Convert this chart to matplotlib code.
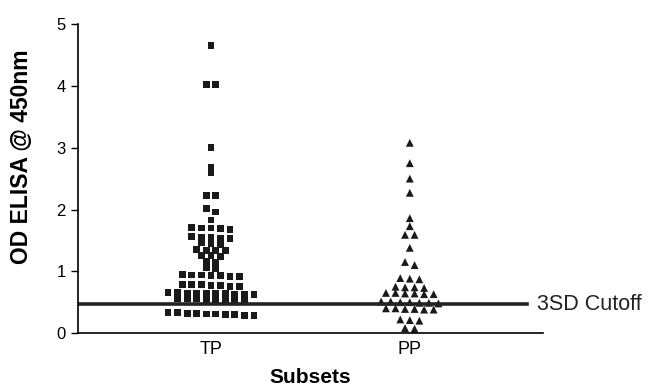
import matplotlib
matplotlib.use("Agg")
import matplotlib.pyplot as plt
import numpy as np

plt.rcParams['font.family'] = ['Liberation Sans', 'DejaVu Sans']

# OD values
groups = ['TP', 'PP']
tp_values = [4.65, 4.02, 4.02, 3.00, 2.68, 2.59, 2.23, 2.23, 2.02, 1.96, 1.83,
             1.71, 1.70, 1.70, 1.69, 1.68,
             1.56, 1.55, 1.55, 1.54, 1.53,
             1.46, 1.45, 1.44,
             1.35, 1.34, 1.34, 1.33,
             1.26, 1.25, 1.24,
             1.16, 1.15, 1.06, 1.04,
             0.95, 0.94, 0.94, 0.93, 0.93, 0.92, 0.92,
             0.79, 0.78, 0.78, 0.77, 0.77, 0.76, 0.76,
             0.66, 0.66, 0.65, 0.65, 0.64, 0.64, 0.64, 0.63, 0.63, 0.62,
             0.56, 0.55, 0.55, 0.54, 0.54, 0.53, 0.53, 0.52,
             0.33, 0.33, 0.32, 0.32, 0.31, 0.31, 0.30, 0.30, 0.29, 0.29]
pp_values = [3.08, 2.75, 2.50, 2.27, 1.86, 1.73, 1.59, 1.59, 1.38, 1.15, 1.10,
             0.89, 0.88, 0.87,
             0.75, 0.74, 0.74, 0.73,
             0.65, 0.65, 0.64, 0.64, 0.63, 0.63,
             0.51, 0.51, 0.50, 0.50, 0.49, 0.49, 0.48,
             0.40, 0.40, 0.39, 0.39, 0.38, 0.38,
             0.22, 0.21, 0.20, 0.08, 0.07]
cutoff = 0.47


# dot plot layout: close values share a row, row is centred on the group
def dot_rows(values, center, dx=0.048, tol=0.065):
    vals = sorted(values, reverse=True)
    rows = []
    for v in vals:
        if rows and rows[-1][0] - v < tol:
            rows[-1].append(v)
        else:
            rows.append([v])
    xs, ys = [], []
    for row in rows:
        n = len(row)
        for i, v in enumerate(row):
            xs.append(center + (i - (n - 1) / 2) * dx)
            ys.append(v)
    return xs, ys


fig = plt.figure(figsize=(6.59, 3.9), dpi=100)
ax = fig.add_axes([0.118, 0.146, 0.706, 0.792])

x, y = dot_rows(tp_values, 1)
ax.scatter(x, y, marker='s', s=24, color='#1a1a1a', edgecolors='none')
x, y = dot_rows(pp_values, 2)
ax.scatter(x, y, marker='^', s=32, color='#1a1a1a', edgecolors='none')

ax.plot([0.33, 2.59], [cutoff, cutoff], color='#222222', lw=2.6)
ax.text(2.64, cutoff, '3SD Cutoff', fontsize=15.5, va='center', ha='left', color='#222222')

ax.set_xlim(0.33, 2.67)
ax.set_ylim(0, 5)
ax.set_yticks(np.arange(0, 6, 1))
ax.set_xticks([1, 2])
ax.set_xticklabels(groups, fontsize=13)
ax.tick_params(axis='y', labelsize=12, length=5, width=1)
ax.tick_params(axis='x', length=0, pad=6)

for s in ['top', 'right']:
    ax.spines[s].set_visible(False)
ax.spines['left'].set_linewidth(1.2)
ax.spines['bottom'].set_linewidth(1.2)

ax.set_ylabel('OD ELISA @ 450nm', fontsize=16.5, fontweight='bold')
ax.yaxis.set_label_coords(-0.097, 0.57)
ax.set_xlabel('Subsets', fontsize=15, fontweight='bold', labelpad=7)

fig.savefig('out.png', dpi=100)
